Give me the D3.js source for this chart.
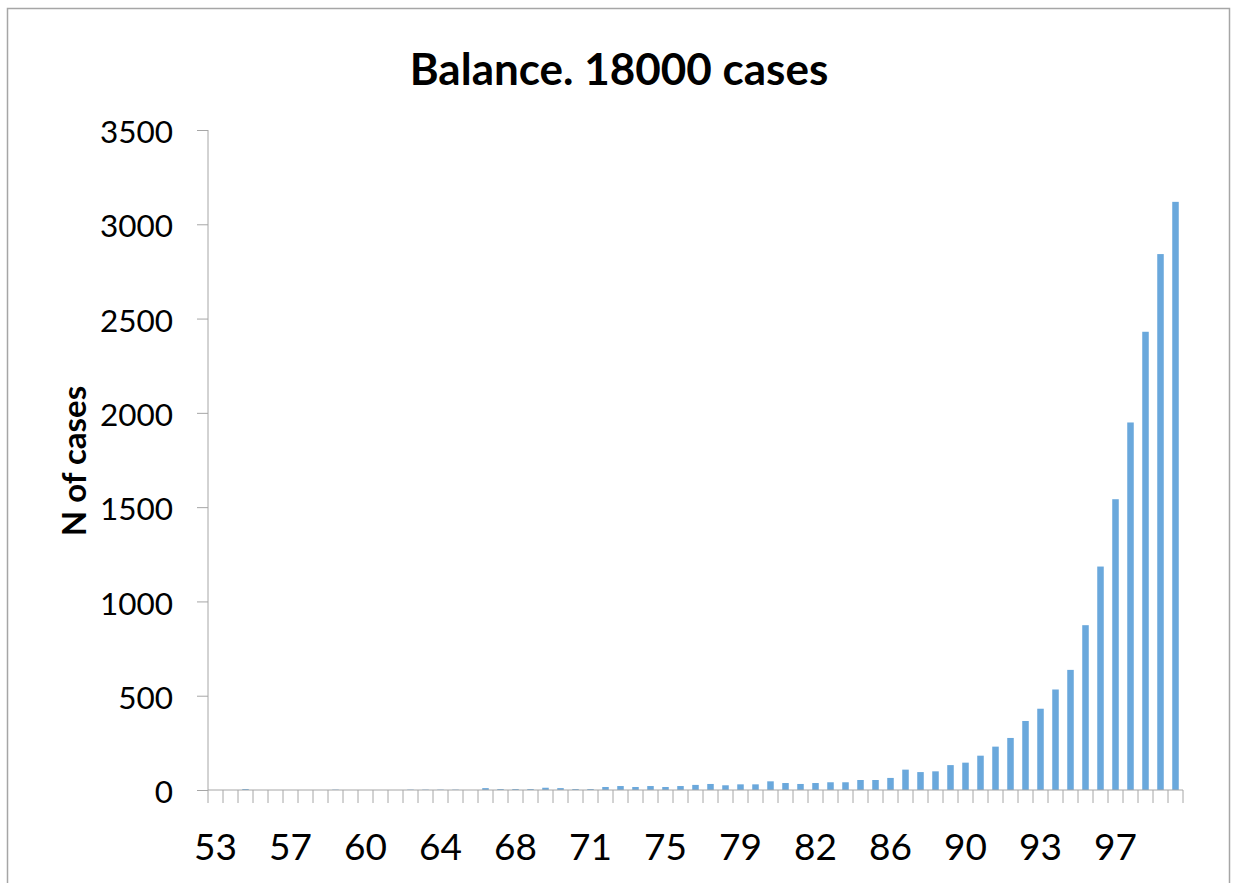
<!DOCTYPE html>
<html>
<head>
<meta charset="utf-8">
<script src="https://cdn.jsdelivr.net/npm/d3@7"></script>
<style>
  body { margin: 0; background: #fff; }
  svg { display: block; }
  .axis path, .axis line { stroke: #a6a6a6; }
  .axis text { fill: #000; font-family: Lato, sans-serif; }
</style>
</head>
<body>
<div id="chart"></div>
<script>
var chartTitle = "Balance. 18000 cases";
var yTitle = "N of cases";

// balance value of each bin (rounded, as Excel shows it)
var categories = [
  "53","54","54","55","56","57","57","58","59","60",
  "60","61","62","63","63","64","65","65","66","67",
  "68","68","69","70","71","71","72","73","74","74",
  "75","76","76","77","78","79","79","80","81","82",
  "82","83","84","85","85","86","87","87","88","89",
  "90","90","91","92","93","93","94","95","96","96",
  "97","98","98","99","100"
];

var counts = [
  0, 0, 5, 0, 0, 0, 0, 0, 2, 0,
  0, 0, 0, 2, 2, 2, 2, 0, 10, 5,
  5, 5, 12, 10, 5, 5, 16, 21, 16, 21,
  16, 21, 27, 32, 25, 30, 30, 46, 37, 32,
  37, 41, 41, 53, 53, 64, 108, 95, 99, 132,
  145, 182, 230, 276, 366, 431, 533, 637, 874, 1185,
  1542, 1949, 2430, 2842, 3119
];

var yTicks = [0, 500, 1000, 1500, 2000, 2500, 3000, 3500];

var W = 1235, H = 883;
var margin = {top: 130, right: 52, bottom: 93, left: 208};
var width = W - margin.left - margin.right,
    height = H - margin.top - margin.bottom;

var data = counts.map(function(v, i) { return {i: i, label: categories[i], value: v}; });

var svg = d3.select("#chart").append("svg")
    .attr("width", W)
    .attr("height", H);

// chart frame
svg.append("rect")
    .attr("x", 7.5).attr("y", 8.5)
    .attr("width", 1222).attr("height", 900)
    .attr("fill", "none")
    .attr("stroke", "#a6a6a6")
    .attr("stroke-width", 1.5);

svg.append("text")
    .attr("x", 619).attr("y", 85)
    .attr("text-anchor", "middle")
    .style("font-family", "Lato, sans-serif")
    .style("font-weight", "bold")
    .style("font-size", "44px")
    .text(chartTitle);

var g = svg.append("g")
    .attr("transform", "translate(" + margin.left + "," + margin.top + ")");

var x = d3.scaleBand()
    .domain(d3.range(counts.length))
    .range([0, width])
    .paddingInner(0.565)
    .paddingOuter(0.2825);

var y = d3.scaleLinear().domain([0, 3500]).range([height, 0]);

// bars
g.selectAll(".bar")
    .data(data)
  .enter().append("rect")
    .attr("class", "bar")
    .attr("x", function(d) { return x(d.i); })
    .attr("width", x.bandwidth())
    .attr("y", function(d) { return y(d.value); })
    .attr("height", function(d) { return height - y(d.value); })
    .attr("fill", "#6aa8dc");

// y axis
var yAxis = g.append("g")
    .attr("class", "axis axis--y")
    .call(d3.axisLeft(y).tickValues(yTicks).tickSize(11).tickPadding(24).tickFormat(d3.format("d")));
yAxis.selectAll("text").style("font-size", "31.5px").attr("dy", "0.4em");
yAxis.select(".domain").attr("d", "M0,0V" + height);

// x axis: ticks between categories, label every 5th bin
var step = x.step();
var xAxis = g.append("g")
    .attr("class", "axis axis--x")
    .attr("transform", "translate(0," + height + ")");
xAxis.append("line")
    .attr("x1", 0).attr("x2", width)
    .attr("stroke", "#a6a6a6");
xAxis.selectAll(".tick")
    .data(d3.range(counts.length + 1))
  .enter().append("line")
    .attr("class", "tick")
    .attr("x1", function(k) { return k * step; })
    .attr("x2", function(k) { return k * step; })
    .attr("y1", 0).attr("y2", 13);
xAxis.selectAll(".lbl")
    .data(data.filter(function(d) { return d.i % 5 == 0; }))
  .enter().append("text")
    .attr("class", "lbl")
    .attr("x", function(d) { return x(d.i) + x.bandwidth() / 2; })
    .attr("y", 70)
    .attr("text-anchor", "middle")
    .style("font-size", "37px")
    .text(function(d) { return d.label; });

svg.append("text")
    .attr("transform", "translate(86,461) rotate(-90)")
    .attr("text-anchor", "middle")
    .style("font-family", "Lato, sans-serif")
    .style("font-weight", "bold")
    .style("font-size", "33px")
    .text(yTitle);
</script>
</body>
</html>
